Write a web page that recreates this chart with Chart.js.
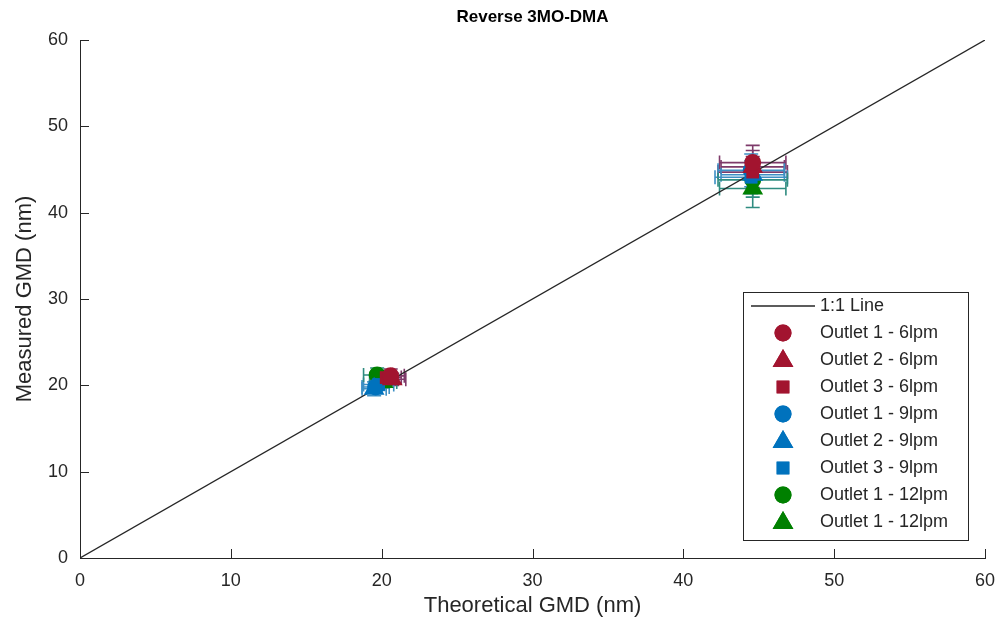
<!DOCTYPE html>
<html>
<head>
<meta charset="utf-8">
<script src="https://cdn.jsdelivr.net/npm/chart.js@4"></script>
<style>
  html, body { margin: 0; padding: 0; background: #ffffff; }
  #wrap { width: 1000px; height: 630px; }
</style>
</head>
<body>
<div id="wrap"><canvas id="gmdChart" width="1000" height="630"></canvas></div>
<script>
// данные графика
const seriesLabels = ['Outlet 1 - 6lpm', 'Outlet 2 - 6lpm', 'Outlet 3 - 6lpm', 'Outlet 1 - 9lpm',
                      'Outlet 2 - 9lpm', 'Outlet 3 - 9lpm', 'Outlet 1 - 12lpm', 'Outlet 1 - 12lpm'];
const seriesShapes = ['circle', 'triangle', 'rect', 'circle', 'triangle', 'rect', 'circle', 'triangle'];
const seriesColors = ['#A2142F', '#A2142F', '#A2142F', '#0072BD', '#0072BD', '#0072BD', '#008000', '#008000'];
const errColors = ['#7E3A6A', '#7E3A6A', '#7E3A6A', '#3C8FC4', '#3C8FC4', '#3C8FC4', '#2F8C80', '#2F8C80'];

// теоретический GMD (нм), две точки на серию
const theoretical = [
    [20.6, 44.6], [20.7, 44.6], [20.3, 44.6], [19.6, 44.5],
    [19.5, 44.6], [19.8, 44.5], [19.7, 44.6], [20.1, 44.6]
];
// измеренный GMD (нм)
const measured = [
    [21.1, 45.8], [20.7, 45.3], [20.9, 44.7], [19.8, 44.9],
    [19.6, 44.4], [20.1, 44.1], [21.2, 43.8], [20.4, 42.8]
];
const xErr = [
    [0.9, 2.2], [0.9, 2.1], [1.0, 2.3], [0.9, 2.2],
    [0.8, 2.1], [1.0, 2.4], [0.9, 2.3], [0.9, 2.2]
];
const yErr = [
    [0.8, 2.0], [0.7, 1.9], [0.8, 1.8], [0.7, 1.9],
    [0.8, 1.8], [0.7, 1.9], [0.8, 2.0], [0.7, 2.2]
];
const oneToOne = [0, 60];
const tickValues = [0, 10, 20, 30, 40, 50, 60];

const txtColor = '#262626';
const fontFam = '"Liberation Sans", Arial, Helvetica, sans-serif';

// размер маркера по форме
function markerRadius(shape) {
    if (shape === 'triangle') return 12;
    if (shape === 'rect') return 9;
    return 8.5;
}

// планки погрешностей, внутренние засечки, заголовок и легенда
const extras = {
    id: 'extras',
    beforeDatasetsDraw(chart) {
        const ctx = chart.ctx;
        const xs = chart.scales.x, ys = chart.scales.y;
        const cap = 7;
        ctx.save();
        ctx.lineWidth = 1.6;
        theoretical.forEach((row, s) => {
            ctx.strokeStyle = errColors[s];
            row.forEach((xv, i) => {
                const yv = measured[s][i];
                const px = xs.getPixelForValue(xv), py = ys.getPixelForValue(yv);
                const x1 = xs.getPixelForValue(xv - xErr[s][i]), x2 = xs.getPixelForValue(xv + xErr[s][i]);
                const y1 = ys.getPixelForValue(yv - yErr[s][i]), y2 = ys.getPixelForValue(yv + yErr[s][i]);
                ctx.beginPath();
                ctx.moveTo(x1, py); ctx.lineTo(x2, py);
                ctx.moveTo(x1, py - cap); ctx.lineTo(x1, py + cap);
                ctx.moveTo(x2, py - cap); ctx.lineTo(x2, py + cap);
                ctx.moveTo(px, y1); ctx.lineTo(px, y2);
                ctx.moveTo(px - cap, y1); ctx.lineTo(px + cap, y1);
                ctx.moveTo(px - cap, y2); ctx.lineTo(px + cap, y2);
                ctx.stroke();
            });
        });
        ctx.restore();
    },
    afterDraw(chart) {
        const ctx = chart.ctx;
        const area = chart.chartArea;
        const xs = chart.scales.x, ys = chart.scales.y;
        ctx.save();
        // засечки внутрь
        ctx.strokeStyle = txtColor;
        ctx.lineWidth = 1;
        tickValues.forEach(v => {
            const px = Math.round(xs.getPixelForValue(v)) + 0.5;
            ctx.beginPath();
            ctx.moveTo(px, area.bottom); ctx.lineTo(px, area.bottom - 9);
            ctx.stroke();
            const py = Math.round(ys.getPixelForValue(v)) + 0.5;
            ctx.beginPath();
            ctx.moveTo(area.left, py); ctx.lineTo(area.left + 9, py);
            ctx.stroke();
        });
        // заголовок
        ctx.fillStyle = '#000000';
        ctx.font = 'bold 17px ' + fontFam;
        ctx.textAlign = 'center';
        ctx.textBaseline = 'middle';
        ctx.fillText('Reverse 3MO-DMA', (area.left + area.right) / 2, 17);

        // легенда
        const lx = 743, ly = 292, lw = 225, lh = 248, rowH = 27;
        ctx.fillStyle = '#ffffff';
        ctx.fillRect(lx, ly, lw, lh);
        ctx.strokeStyle = txtColor;
        ctx.lineWidth = 1;
        ctx.strokeRect(lx + 0.5, ly + 0.5, lw, lh);
        ctx.font = '18px ' + fontFam;
        ctx.textAlign = 'left';
        ctx.fillStyle = txtColor;
        const textX = 820;
        let y = ly + 14;
        ctx.lineWidth = 1.3;
        ctx.beginPath();
        ctx.moveTo(751, y); ctx.lineTo(815, y);
        ctx.stroke();
        ctx.fillText('1:1 Line', textX, y);
        seriesLabels.forEach((lab, s) => {
            y += rowH;
            ctx.fillStyle = seriesColors[s];
            Chart.helpers.drawPoint(ctx, {
                pointStyle: seriesShapes[s],
                radius: markerRadius(seriesShapes[s]),
                rotation: 0,
                borderWidth: 0
            }, 783, seriesShapes[s] === 'triangle' ? y + 1 : y);
            ctx.fill();
            ctx.fillStyle = txtColor;
            ctx.fillText(lab, textX, y);
        });
        ctx.restore();
    }
};

const datasets = [{
    type: 'line',
    label: '1:1 Line',
    data: oneToOne.map(v => ({ x: v, y: v })),
    borderColor: txtColor,
    borderWidth: 1.3,
    pointRadius: 0,
    fill: false,
    order: 10
}];
seriesLabels.forEach((lab, s) => {
    datasets.push({
        type: 'scatter',
        label: lab,
        data: theoretical[s].map((xv, i) => ({ x: xv, y: measured[s][i] })),
        pointStyle: seriesShapes[s],
        pointRadius: markerRadius(seriesShapes[s]),
        backgroundColor: seriesColors[s],
        borderColor: seriesColors[s],
        borderWidth: 0,
        order: s
    });
});

new Chart(document.getElementById('gmdChart').getContext('2d'), {
    type: 'scatter',
    data: { datasets: datasets },
    options: {
        responsive: false,
        animation: false,
        layout: { padding: { top: 40, right: 15, left: 0, bottom: 0 } },
        plugins: {
            legend: { display: false },
            title: { display: false },
            tooltip: { enabled: false }
        },
        scales: {
            x: {
                type: 'linear',
                min: 0, max: 60,
                ticks: { color: txtColor, font: { family: fontFam, size: 18 }, stepSize: 10, padding: 12 },
                grid: { display: true, drawOnChartArea: false, drawTicks: false },
                border: { display: true, color: txtColor, width: 1 },
                title: {
                    display: true,
                    text: 'Theoretical GMD (nm)',
                    color: txtColor,
                    font: { family: fontFam, size: 22 },
                    padding: { top: 0, bottom: 11 }
                },
                afterFit(scale) {
                    scale.height = 72;
                    scale.paddingRight = 0;
                    scale.paddingLeft = 0;
                }
            },
            y: {
                type: 'linear',
                min: 0, max: 60,
                ticks: { color: txtColor, font: { family: fontFam, size: 18 }, stepSize: 10, padding: 12 },
                grid: { display: true, drawOnChartArea: false, drawTicks: false },
                border: { display: true, color: txtColor, width: 1 },
                title: {
                    display: true,
                    text: 'Measured GMD (nm)',
                    color: txtColor,
                    font: { family: fontFam, size: 22 },
                    padding: { top: 12, bottom: 0 }
                },
                afterFit(scale) { scale.width = 80; }
            }
        }
    },
    plugins: [extras]
});
</script>
</body>
</html>
